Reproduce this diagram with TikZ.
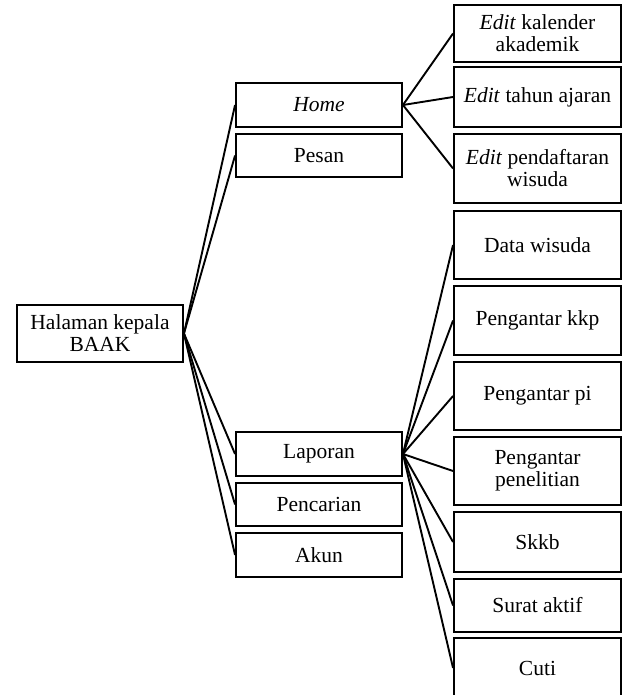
\documentclass[tikz,border=0pt]{standalone}
\usepackage{fontspec}
\setmainfont{Liberation Serif}
\begin{document}
\begin{tikzpicture}[x=1pt,y=-1pt,
  box/.style={draw, line width=1.9pt, inner sep=0pt, align=center,
    font=\fontsize{21.5}{22}\selectfont},
  link/.style={line width=1.9pt}]
\useasboundingbox (0,0) rectangle (625,695);
% root
\node[box, minimum width=166pt, minimum height=57pt] (root) at (100,333.5) {Halaman kepala\\BAAK};
% middle
\node[box, minimum width=166pt, minimum height=44pt] (home) at (319,105) {\textit{Home}};
\node[box, minimum width=166pt, minimum height=43pt] (pesan) at (319,155.5) {Pesan};
\node[box, minimum width=166pt, minimum height=44pt] (lap) at (319,454) {Laporan};
\node[box, minimum width=166pt, minimum height=43pt] (cari) at (319,504.5) {Pencarian};
\node[box, minimum width=166pt, minimum height=44pt] (akun) at (319,555) {Akun};
% right
\node[box, minimum width=167pt, minimum height=57pt] (kal) at (537.5,33.5) {\textit{Edit} kalender\\akademik};
\node[box, minimum width=167pt, minimum height=60pt] (thn) at (537.5,97) {\textit{Edit} tahun ajaran};
\node[box, minimum width=167pt, minimum height=69pt] (daf) at (537.5,168.5) {\textit{Edit} pendaftaran\\wisuda};
\node[box, minimum width=167pt, minimum height=68pt] (dw) at (537.5,245) {Data wisuda};
\node[box, minimum width=167pt, minimum height=69pt] (kkp) at (537.5,320.5) {Pengantar kkp};
\node[box, minimum width=167pt, minimum height=68pt] (pi) at (537.5,396) {Pengantar pi};
\node[box, minimum width=167pt, minimum height=68pt] (pen) at (537.5,471) {Pengantar\\penelitian};
\node[box, minimum width=167pt, minimum height=60pt] (skkb) at (537.5,542) {Skkb};
\node[box, minimum width=167pt, minimum height=53pt] (sa) at (537.5,605.5) {Surat aktif};
\node[box, minimum width=167pt, minimum height=60pt] (cuti) at (537.5,668) {Cuti};
% connectors
\foreach \m in {home,pesan,lap,cari,akun} \draw[link] (root.east) -- (\m.west);
\foreach \r in {kal,thn,daf} \draw[link] (home.east) -- (\r.west);
\foreach \r in {dw,kkp,pi,pen,skkb,sa,cuti} \draw[link] (lap.east) -- (\r.west);
\end{tikzpicture}
\end{document}
